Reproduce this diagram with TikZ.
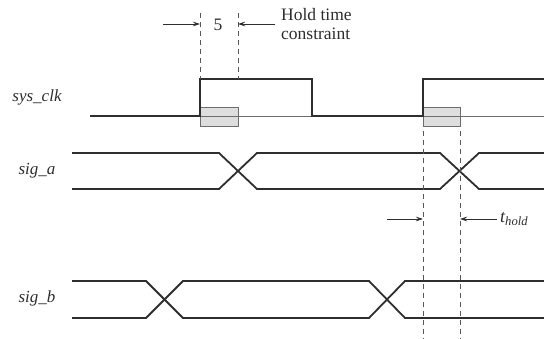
\documentclass[tikz,border=0pt]{standalone}
\usepackage{fontspec}
\setmainfont{Liberation Serif}
\usetikzlibrary{arrows.meta}
\definecolor{ink}{HTML}{2E2E2E}
\tikzset{
  sigline/.style={draw=ink, line width=1.8pt, line join=miter},
  thinline/.style={draw=ink!70, line width=0.7pt},
  holdbox/.style={draw=ink!70, fill=black!13, line width=0.7pt},
  guide/.style={draw=ink!80, line width=0.7pt, dash pattern=on 5pt off 4pt},
  dimarrow/.style={draw=ink, line width=0.7pt, -{Stealth[length=7pt,width=4.5pt]}},
  lbl/.style={text=ink, font=\fontsize{17}{20}\selectfont\itshape, inner sep=0pt},
  txt/.style={text=ink, font=\fontsize{17.5}{19}\selectfont, inner sep=0pt}
}
\begin{document}
\begin{tikzpicture}[x=1pt,y=-1pt]
\useasboundingbox[fill=white] (0,0) rectangle (544,339);
% named coordinates
\coordinate (g1t) at (200,13); \coordinate (g1b) at (200,79);
\coordinate (g2t) at (238,13); \coordinate (g2b) at (238,79);
\coordinate (g3t) at (423,131); \coordinate (g3b) at (423,339);
\coordinate (g4t) at (460,131); \coordinate (g4b) at (460,339);
\coordinate (a1s) at (163,24); \coordinate (a1e) at (200,24);
\coordinate (a2s) at (275,24); \coordinate (a2e) at (238,24);
\coordinate (a3s) at (387,219); \coordinate (a3e) at (423,219);
\coordinate (a4s) at (497,219); \coordinate (a4e) at (460,219);
% labels
\node[lbl] (clk) at (37,97) {sys\_clk};
\node[lbl] (siga) at (37,171) {sig\_a};
\node[lbl] (sigb) at (37,298) {sig\_b};
\node[txt] (five) at (218,25) {5};
\node[txt, anchor=west, align=left] (hold) at (281,24) {Hold time\\constraint};
\node[lbl, anchor=west, font=\fontsize{18}{20}\selectfont\itshape] (thold) at (500,219) {t\textsubscript{hold}};
% hold boxes
\draw[holdbox] (200,107) rectangle (238,126);
\draw[holdbox] (423,107) rectangle (460,126);
\draw[thinline] (200,116) -- (544,116);
% clock
\draw[sigline] (90,116) -- (200,116) -- (200,79) -- (312,79) -- (312,116) -- (423,116) -- (423,79) -- (544,79);
% sig_a
\draw[sigline] (72,153) -- (219,153) -- (257,189) -- (440,189) -- (479,153) -- (544,153);
\draw[sigline] (72,189) -- (219,189) -- (257,153) -- (440,153) -- (479,189) -- (544,189);
% sig_b
\draw[sigline] (72,281) -- (146,281) -- (183,318) -- (369,318) -- (405,281) -- (544,281);
\draw[sigline] (72,318) -- (146,318) -- (183,281) -- (369,281) -- (405,318) -- (544,318);
% guides
\draw[guide] (g1t) -- (g1b);
\draw[guide] (g2t) -- (g2b);
\draw[guide] (g3t) -- (g3b);
\draw[guide] (g4t) -- (g4b);
% dimension arrows
\draw[dimarrow] (a1s) -- (a1e);
\draw[dimarrow] (a2s) -- (a2e);
\draw[dimarrow] (a3s) -- (a3e);
\draw[dimarrow] (a4s) -- (a4e);
\end{tikzpicture}
\end{document}
